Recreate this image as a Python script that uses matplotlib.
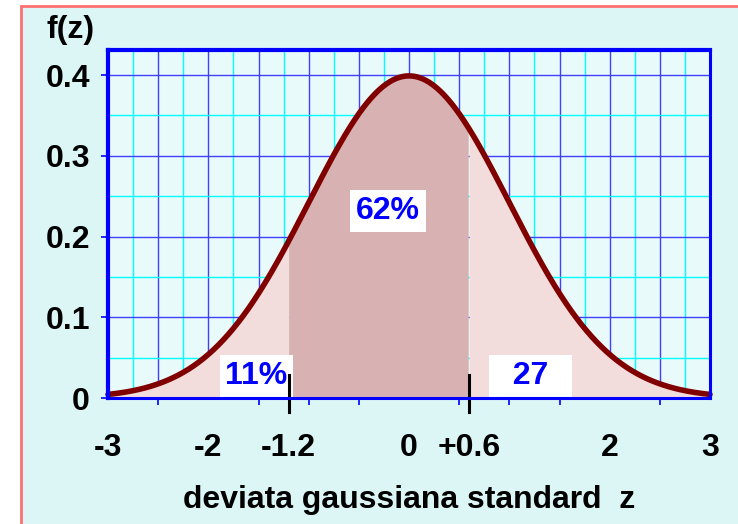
import numpy as np
import matplotlib
matplotlib.use("Agg")
import matplotlib.pyplot as plt
from matplotlib.patches import Rectangle
import matplotlib.transforms as mtransforms

plt.rcParams['font.family'] = ['Liberation Sans', 'DejaVu Sans']
plt.rcParams['font.weight'] = 'bold'

# Standard normal density
mu = 0.0
sigma = 1.0
z_min, z_max = -3.0, 3.0

# Cut points and the probability labels for the three regions
cut_low = -1.2
cut_high = 0.6
region_labels = ["11%", "62%", "27"]

x_tick_values = [-3, -2, -1.2, 0, 0.6, 2, 3]
x_tick_labels = ["-3", "-2", "-1.2", "0", "+0.6", "2", "3"]
y_tick_values = [0, 0.1, 0.2, 0.3, 0.4]
y_tick_labels = ["0", "0.1", "0.2", "0.3", "0.4"]

z = np.linspace(z_min, z_max, 601)
f = np.exp(-0.5 * ((z - mu) / sigma) ** 2) / (sigma * np.sqrt(2 * np.pi))

W, H = 738, 524
FS = 23
fig = plt.figure(figsize=(W / 100, H / 100), dpi=100)
fig.patch.set_facecolor('white')

# Panel behind the chart
panel = Rectangle((21 / W, -0.05), 1.2, (H - 6) / H + 0.05, transform=fig.transFigure,
                  facecolor='#dcf5f5', edgecolor='#ff7070', linewidth=2.0, zorder=-10)
fig.patches.append(panel)

ax = fig.add_axes([108 / W, (H - 398) / H, (710 - 108) / W, (398 - 50) / H])
ax.set_zorder(1)
ax.set_facecolor('#e9fafa')
ax.set_xlim(z_min, z_max)
ax.set_ylim(0, 0.431)

# Grid: blue every 0.5 / 0.1, cyan in between
for gx in np.arange(-2.75, 3.0, 0.25):
    major = abs(gx * 2 - round(gx * 2)) < 1e-9
    ax.axvline(gx, color='#4040ff' if major else '#00ffff', lw=1.0, zorder=1)
for gy in np.arange(0.05, 0.431, 0.05):
    major = abs(gy * 10 - round(gy * 10)) < 1e-9
    ax.axhline(gy, color='#4040ff' if major else '#00ffff', lw=1.0, zorder=1)

# Shaded regions under the curve
left = z <= cut_low
mid = (z >= cut_low) & (z <= cut_high)
right = z >= cut_high
ax.fill_between(z[left], 0, f[left], color='#f2dcdc', lw=0, zorder=2)
ax.fill_between(z[right], 0, f[right], color='#f2dcdc', lw=0, zorder=2)
ax.fill_between(z[mid], 0, f[mid], color='#d8b2b2', lw=0, zorder=2)

ax.plot(z, f, color='#800000', lw=4.0, solid_capstyle='round', zorder=4, clip_on=False)

# Cut markers crossing the axis
trans = mtransforms.blended_transform_factory(ax.transData, ax.transAxes)
for c in (cut_low, cut_high):
    ax.plot([c, c], [0.066, -0.04], color='black', lw=2.2, transform=trans,
            clip_on=False, zorder=6)

# Region labels
box = dict(boxstyle='square,pad=0.18', facecolor='white', edgecolor='none')
ax.text(-1.52, 0.027, region_labels[0], color='#0000ff', fontsize=FS, fontweight='bold',
        ha='center', va='center', bbox=box, zorder=5)
ax.text(-0.21, 0.2316, region_labels[1], color='#0000ff', fontsize=FS, fontweight='bold',
        ha='center', va='center', bbox=box, zorder=5)
ax.text(1.21, 0.027, "  " + region_labels[2] + "  ", color='#0000ff', fontsize=FS,
        fontweight='bold', ha='center', va='center', bbox=box, zorder=5)

# Axes styling
for side in ('left', 'top'):
    ax.spines[side].set_color('#0000ff')
    ax.spines[side].set_linewidth(3.0)
for side in ('right', 'bottom'):
    ax.spines[side].set_color('#0000ff')
    ax.spines[side].set_linewidth(2.2)
for s in ax.spines.values():
    s.set_zorder(7)

ax.set_xticks(x_tick_values)
ax.set_xticklabels(x_tick_labels, fontsize=FS, fontweight='bold')
ax.tick_params(axis='x', length=0, pad=25)
ax.set_xticks(np.arange(-2.5, 3.0, 0.5), minor=True)
ax.tick_params(axis='x', which='minor', length=5, width=1.2, color='#0000ff', direction='out')

ax.set_yticks(y_tick_values)
ax.set_yticklabels(y_tick_labels, fontsize=FS, fontweight='bold')
ax.tick_params(axis='y', length=5, width=1.2, color='#0000ff', direction='out', pad=8)

ax.set_xlabel('deviata gaussiana standard  z', fontsize=FS, fontweight='bold', labelpad=16)
fig.text(71 / W, 1 - 30 / H, 'f(z)', fontsize=FS, fontweight='bold', ha='center', va='center')

fig.savefig('out.png', dpi=100)
